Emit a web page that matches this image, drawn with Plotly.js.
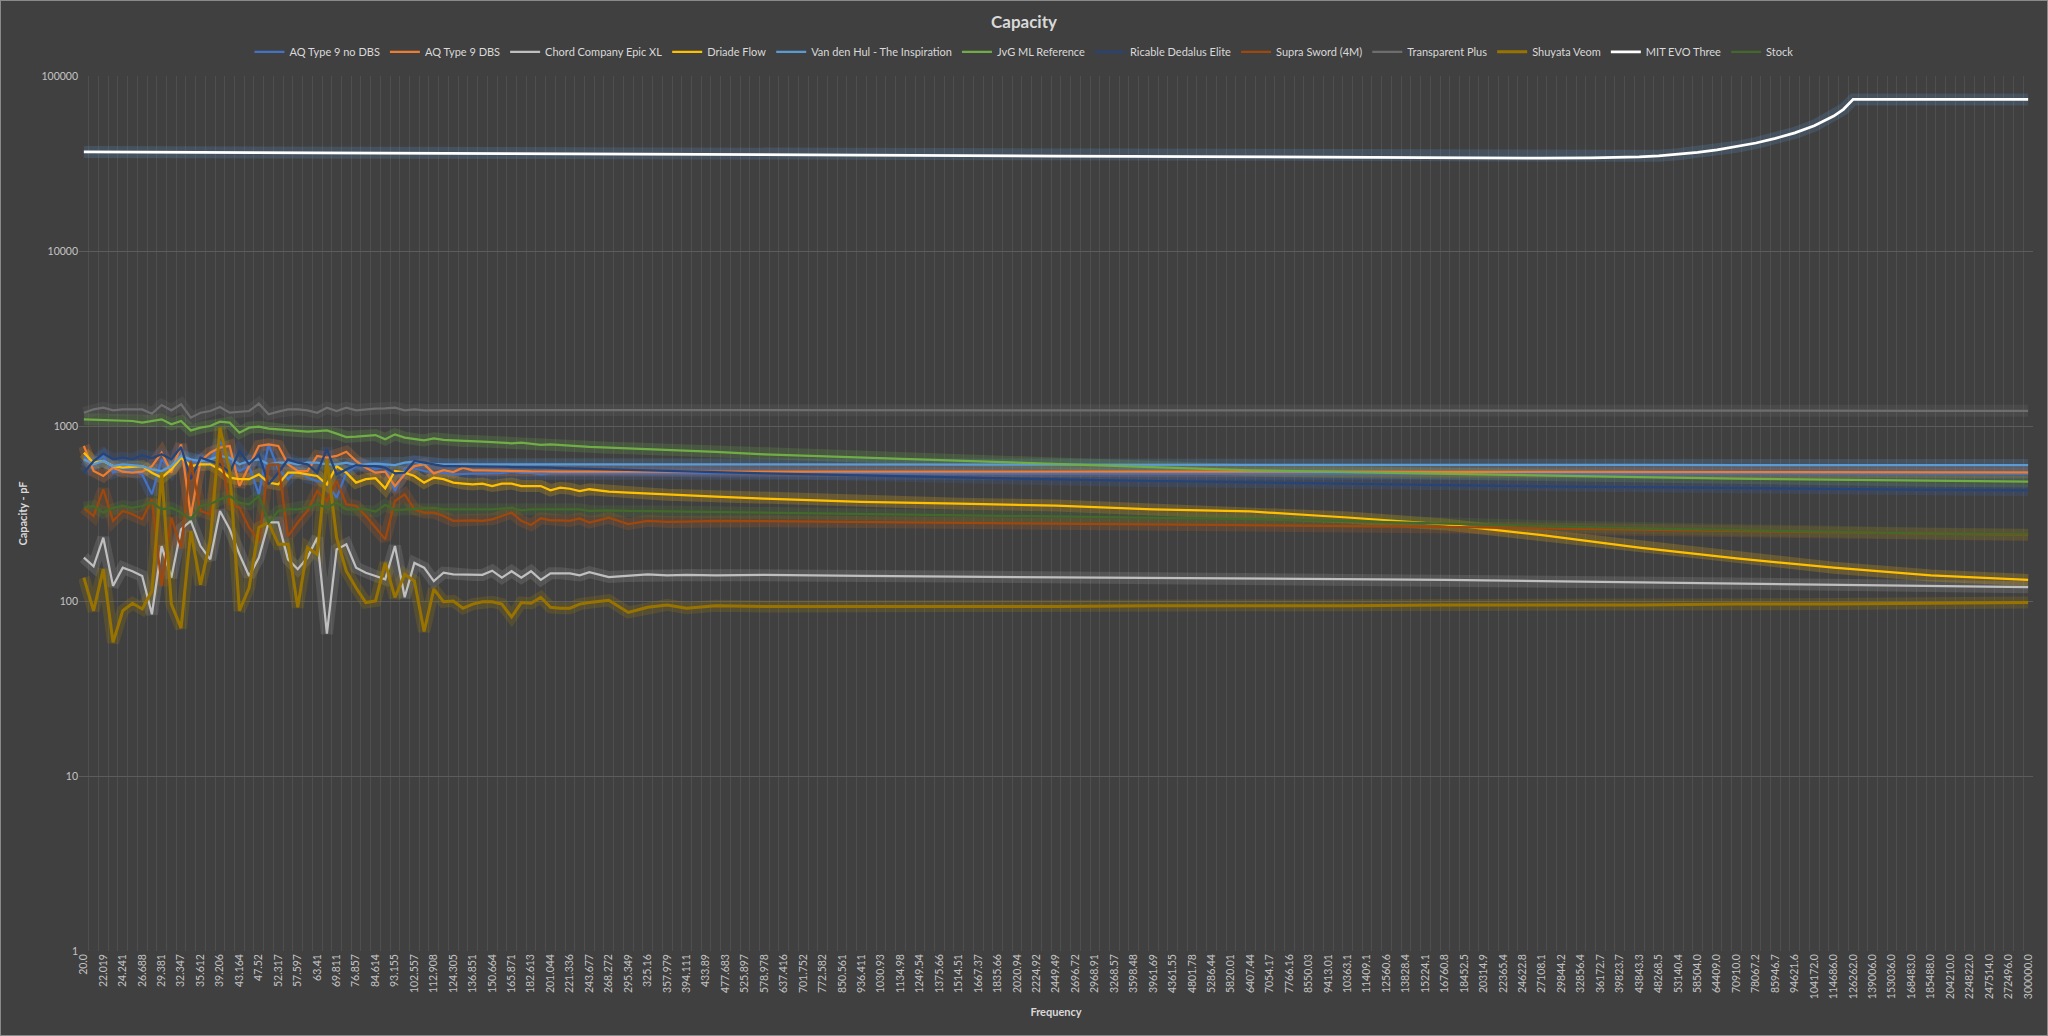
<!DOCTYPE html>
<html>
<head>
<meta charset="utf-8">
<script src="https://cdn.plot.ly/plotly-3.0.1.min.js"></script>
<style>
html,body{margin:0;padding:0;background:#404040;overflow:hidden;}
#chart{width:2048px;height:1036px;}
#frame{position:absolute;left:0;top:0;width:2046px;height:1034px;border:1px solid #8a8a8a;pointer-events:none;}
</style>
</head>
<body>
<div id="chart"></div>
<div id="frame"></div>
<script>
// Frequency tick labels (every second category of the sweep)
const freqLabels = ["20.0","22.019","24.241","26.688","29.381","32.347","35.612","39.206","43.164","47.52",
"52.317","57.597","63.41","69.811","76.857","84.614","93.155","102.557","112.908","124.305",
"136.851","150.664","165.871","182.613","201.044","221.336","243.677","268.272","295.349","325.16",
"357.979","394.111","433.89","477.683","525.897","578.978","637.416","701.752","772.582","850.561",
"936.411","1030.93","1134.98","1249.54","1375.66","1514.51","1667.37","1835.66","2020.94","2224.92",
"2449.49","2696.72","2968.91","3268.57","3598.48","3961.69","4361.55","4801.78","5286.44","5820.01",
"6407.44","7054.17","7766.16","8550.03","9413.01","10363.1","11409.1","12560.6","13828.4","15224.1",
"16760.8","18452.5","20314.9","22365.4","24622.8","27108.1","29844.2","32856.4","36172.7","39823.7",
"43843.3","48268.5","53140.4","58504.0","64409.0","70910.0","78067.2","85946.7","94621.6","104172.0",
"114686.0","126262.0","139006.0","153036.0","168483.0","185488.0","204210.0","224822.0","247514.0","272496.0",
"300000.0"];

// category positions (index along the frequency sweep) at which values were read
const pointIndex = [0,1,2,3,4,5,6,7,8,9,10,11,12,13,14,15,16,17,18,19,20,21,22,23,24,25,26,
27,28,29,30,31,32,33,34,35,36,37,38,39,40,41,42,43,44,45,46,47,48,49,50,51,52,
54,56,58,60,62,65,70,80,90,100,110,120,130,140,150,160,170,180,190,200];

const aqNoDbs = [674,604,674,541,565,553,529,407,645,553,689,617,645,617,821,631,553,590,407,786,565,497,565,507,485,475,389,
541,590,598,565,590,425,565,573,553,541,541,529,534,534,534,536,538,548,540,539,529,536,536,536,536,536,
537,538,537,538,537,537,537,537,536,536,535,535,535,534,534,534,534,533,533,533];
const aqDbs = [769,553,518,578,548,541,548,590,704,541,786,306,631,704,752,769,454,590,769,786,769,604,553,553,674,659,674,
713,631,578,541,548,454,529,590,604,536,560,546,578,558,558,558,558,555,553,550,548,550,548,548,548,548,
552,553,552,553,552,552,552,551,550,550,549,548,548,547,547,546,546,545,545,544];
const chordEpic = [177,158,230,122,155,148,139,84,206,136,257,287,206,173,327,257,185,139,177,281,281,173,152,177,230,65,197,
211,155,145,139,133,206,105,165,155,130,145,142,142,141,141,149,136,148,136,148,132,144,144,144,140,146,
137,139,142,140,141,140,141,139,138,137,136,135,133,132,130,128,126,124,122,120];
const driadeFlow = [704,617,631,590,578,583,590,541,507,565,659,590,604,604,565,507,497,497,529,475,464,541,541,529,518,464,590,
541,475,497,503,440,553,541,518,475,507,497,475,469,464,469,454,469,469,454,454,454,429,444,438,425,435,
422,416,412,405,401,395,384,369,360,351,334,325,300,274,238,202,175,155,140,132];
const vanDenHul = [645,604,631,590,604,598,590,565,553,590,674,645,631,645,674,659,604,631,645,604,617,617,604,617,617,604,604,
617,598,604,610,604,598,617,625,610,604,604,604,604,604,604,604,604,604,604,604,604,604,604,604,604,604,
604,604,604,604,604,604,604,603,603,602,602,601,600,600,599,599,598,598,598,598];
const jvgRef = [1092,1087,1082,1077,1077,1068,1045,1068,1092,1022,1068,944,978,1000,1059,1045,916,978,991,965,957,944,936,928,936,944,904,
865,869,877,888,839,896,858,839,828,850,832,828,821,821,814,810,803,796,803,793,779,786,779,769,765,759,
752,745,738,730,722,712,689,660,631,604,578,558,545,532,520,510,500,493,487,481];
const ricable = [541,631,695,645,659,645,680,654,689,645,758,497,659,631,604,541,720,604,689,464,541,645,617,604,541,736,529,
565,598,590,590,578,536,541,631,617,604,590,590,590,590,588,586,585,583,583,583,580,578,575,572,570,568,
565,561,557,553,549,545,536,522,507,495,485,478,468,460,452,446,440,436,432,429];
const supraSword = [341,306,434,287,327,313,293,381,122,299,202,631,327,313,720,357,341,263,220,604,604,235,281,327,425,373,485,
357,349,306,263,225,373,407,334,320,320,306,287,289,289,287,293,306,320,287,272,297,289,289,287,296,281,
299,275,287,283,284,287,286,283,281,278,276,272,269,265,260,255,251,247,243,238];
const transparentPlus = [1191,1245,1273,1229,1245,1245,1245,1176,1318,1229,1330,1116,1191,1218,1284,1191,1207,1218,1342,1166,1207,1245,1245,1229,1191,1273,1218,
1273,1229,1245,1256,1262,1273,1229,1245,1229,1234,1234,1234,1234,1234,1234,1234,1234,1234,1234,1234,1234,1234,1234,1234,1234,1234,
1234,1234,1234,1234,1234,1234,1234,1233,1232,1231,1230,1229,1228,1227,1226,1225,1224,1223,1222,1221];
const shuyataVeom = [136,88,152,58,88,97,90,114,541,96,70,251,124,220,978,553,88,119,263,281,211,211,92,202,185,645,230,
148,119,98,100,165,105,142,130,67,117,99,100,91,96,99,99,96,81,98,97,105,92,91,91,96,98,
101,86,92,95,91,94,93,93,93,93,94,94,94,95,95,95,96,96,97,98];
const stockCable = [341,349,320,341,349,341,349,365,334,341,320,293,349,357,381,398,365,357,398,281,327,334,334,341,357,341,365,
334,334,334,324,354,331,334,337,338,341,334,334,334,334,331,334,337,341,330,334,334,334,331,334,334,327,
330,327,326,325,324,322,320,316,311,306,300,294,286,278,268,260,254,248,243,240];

const mitIndex = [0,20,40,60,80,100,120,140,150,155,158,160,162,164,166,168,170,172,174,176,178,180,181,182,190,200];
const mitEvoThree = [36800,36500,36100,35700,35300,34900,34400,34000,33900,34000,34200,34500,35000,35700,36600,37800,39400,41400,44000,47300,52000,59000,64500,73500,73500,73500];

const yTickVals = [1,10,100,1000,10000,100000];
const yTickText = ["1","10","100","1000","10000","100000"];

// series definitions (style kept separate from data)
const series = [
  {name:"AQ Type 9 no DBS", x:pointIndex, y:aqNoDbs, color:"#4472C4", glow:"#4472C4", w:2.25},
  {name:"AQ Type 9 DBS", x:pointIndex, y:aqDbs, color:"#ED7D31", glow:"#ED7D31", w:2.25},
  {name:"Chord Company Epic XL", x:pointIndex, y:chordEpic, color:"#BFBFBF", glow:"#A5A5A5", w:2.25},
  {name:"Driade Flow", x:pointIndex, y:driadeFlow, color:"#FFC000", glow:"#FFC000", w:2.25},
  {name:"Van den Hul - The Inspiration", x:pointIndex, y:vanDenHul, color:"#5B9BD5", glow:"#5B9BD5", w:2.25},
  {name:"JvG ML Reference", x:pointIndex, y:jvgRef, color:"#70AD47", glow:"#70AD47", w:2.25},
  {name:"Ricable Dedalus Elite", x:pointIndex, y:ricable, color:"#264478", glow:"#3a64b0", w:2.25},
  {name:"Supra Sword (4M)", x:pointIndex, y:supraSword, color:"#9E480E", glow:"#C0601A", w:2.25},
  {name:"Transparent Plus", x:pointIndex, y:transparentPlus, color:"#6E6E6E", glow:"#6E6E6E", w:2.25},
  {name:"Shuyata Veom", x:pointIndex, y:shuyataVeom, color:"#997300", glow:"#B08600", w:3},
  {name:"MIT EVO Three", x:mitIndex, y:mitEvoThree, color:"#FFFFFF", glow:"#5B9BD5", w:2.75},
  {name:"Stock", x:pointIndex, y:stockCable, color:"#43682B", glow:"#4f7d32", w:2.25}
];

const traces = [];
series.forEach(s => {
  traces.push({x:s.x, y:s.y, type:"scatter", mode:"lines", showlegend:false, hoverinfo:"skip",
    line:{color:s.glow, width:12}, opacity:0.2});
});
series.forEach(s => {
  traces.push({x:s.x, y:s.y, type:"scatter", mode:"lines", name:s.name,
    line:{color:s.color, width:s.w}});
});

const FONT = "Lato, 'Liberation Sans', sans-serif";

const layout = {
  width:2048, height:1036,
  paper_bgcolor:"#404040", plot_bgcolor:"#404040",
  font:{family:FONT, color:"#bfbfbf"},
  margin:{l:79, r:15, t:76, b:85, pad:0},
  title:{text:"<b>Capacity</b>", font:{family:FONT, size:17, color:"#d9d9d9"},
    xref:"container", x:0.5, xanchor:"center", yref:"container", y:0.979, yanchor:"middle"},
  showlegend:true,
  legend:{orientation:"h", xref:"container", x:0.5, xanchor:"center", yref:"container", y:0.95, yanchor:"middle",
    font:{family:FONT, size:11, color:"#d9d9d9"}, bgcolor:"rgba(0,0,0,0)", itemwidth:30, traceorder:"normal"},
  xaxis:{
    type:"linear", range:[-0.5, 200.5], autorange:false,
    tickmode:"array", tickvals:freqLabels.map((_, k) => 2*k), ticktext:freqLabels,
    tickangle:-90, tickfont:{family:FONT, size:10.5, color:"#c4c4c4"},
    showgrid:false, zeroline:false, showline:false, ticks:"",
    minor:{tickmode:"linear", tick0:0.5, dtick:1, showgrid:true, gridcolor:"#4f4f4f", gridwidth:1, ticks:""},
    title:{text:"<b>Frequency</b>", font:{family:FONT, size:11, color:"#d9d9d9"}, standoff:10},
    automargin:false
  },
  yaxis:{
    type:"log", range:[0, 5], autorange:false,
    tickmode:"array", tickvals:yTickVals, ticktext:yTickText,
    tickfont:{family:FONT, size:10.5, color:"#c4c4c4"},
    showgrid:true, gridcolor:"#5c5c5c", gridwidth:1, zeroline:false, showline:false, ticks:"",
    title:{text:"<b>Capacity - pF</b>", font:{family:FONT, size:11, color:"#d9d9d9"}, standoff:11},
    automargin:false
  }
};

Plotly.newPlot("chart", traces, layout, {displayModeBar:false, staticPlot:true});
</script>
</body>
</html>
